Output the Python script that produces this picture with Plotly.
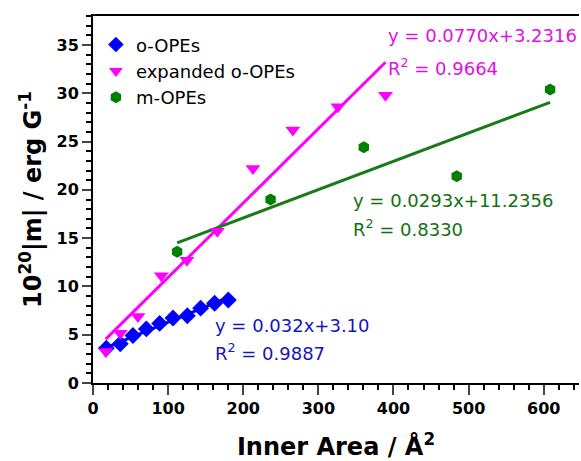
import plotly.graph_objects as go

# ---- data ----
o_x = [17.7, 36.3, 53.2, 71.0, 88.7, 106.5, 125.6, 143.3, 161.9, 180.1]
o_y = [3.60, 4.06, 4.92, 5.60, 6.17, 6.73, 6.96, 7.75, 8.26, 8.60]

exp_x = [17.0, 36.4, 59.9, 91.0, 125.0, 165.5, 212.9, 266.0, 326.0, 389.4]
exp_y = [3.27, 5.16, 6.88, 11.1, 12.7, 15.7, 22.2, 26.2, 28.6, 29.8]

m_x = [112.0, 236.4, 360.5, 484.2, 608.5]
m_y = [13.6, 19.0, 24.4, 21.4, 30.4]

series_names = ["o-OPEs", "expanded o-OPEs", "m-OPEs"]
fit_slope = [0.032, 0.0770, 0.0293]
fit_intercept = [3.10, 3.2316, 11.2356]
fit_eq_text = ["y = 0.032x+3.10", "y = 0.0770x+3.2316", "y = 0.0293x+11.2356"]
fit_r2_text = ["R<sup>2</sup> = 0.9887", "R<sup>2</sup> = 0.9664", "R<sup>2</sup> = 0.8330"]

x_ticks = [0, 100, 200, 300, 400, 500, 600]
y_ticks = [0, 5, 10, 15, 20, 25, 30, 35]

# ---- style ----
marker_colors = ["#0000ff", "#ff00ff", "#008000"]
line_colors = ["#0000ff", "#ff00ff", "#1a7a1a"]
text_colors = ["#1414c0", "#e010e0", "#127012"]
symbols = ["diamond", "triangle-down", "hexagon"]
sizes = [13, 13, 12]
# annotation anchor positions (data coords): [eq_x, eq_y, r2_y]
ann_pos = [(159.6, 6.0, 3.2), (390.7, 36.0, 32.7), (343.8, 18.9, 16.0)]

FONT = "DejaVu Sans"
fig = go.Figure()

datasets = [(o_x, o_y), (exp_x, exp_y), (m_x, m_y)]
# fit lines
for i, (xs, ys) in enumerate(datasets):
    x0, x1 = min(xs), max(xs)
    fig.add_trace(go.Scatter(
        x=[x0, x1],
        y=[fit_slope[i] * x0 + fit_intercept[i], fit_slope[i] * x1 + fit_intercept[i]],
        mode="lines", line=dict(color=line_colors[i], width=3),
        showlegend=False, hoverinfo="skip"))

# markers
for i, (xs, ys) in enumerate(datasets):
    fig.add_trace(go.Scatter(
        x=xs, y=ys, mode="markers", name=series_names[i],
        marker=dict(symbol=symbols[i], size=sizes[i], color=marker_colors[i],
                    line=dict(width=0))))

for i in range(3):
    ex, ey, ry = ann_pos[i]
    fig.add_annotation(x=ex, y=ey, xref="x", yref="y", text=fit_eq_text[i],
                       showarrow=False, xanchor="left", yanchor="middle",
                       font=dict(family=FONT, size=18, color=text_colors[i]))
    fig.add_annotation(x=ex, y=ry, xref="x", yref="y", text=fit_r2_text[i],
                       showarrow=False, xanchor="left", yanchor="middle",
                       font=dict(family=FONT, size=18, color=text_colors[i]))

fig.update_layout(
    width=581, height=461,
    margin=dict(l=93, r=2, t=16, b=78, autoexpand=False),
    plot_bgcolor="white", paper_bgcolor="white",
    font=dict(family=FONT, color="black"),
    legend=dict(x=0.006, y=0.972, xanchor="left", yanchor="top",
                bgcolor="rgba(0,0,0,0)", font=dict(family=FONT, size=18),
                itemsizing="constant", tracegroupgap=0),
    xaxis=dict(range=[0, 647], tickvals=x_ticks, ticks="outside", ticklen=10,
               tickwidth=2, linewidth=2, linecolor="black", showline=True,
               mirror=True, showgrid=False, zeroline=False, automargin=False,
               tickfont=dict(family=FONT, size=16, weight="bold"),
               minor=dict(dtick=20, ticks="outside", ticklen=5, tickwidth=1.5,
                          tickcolor="black", showgrid=False),
               title=dict(text="Inner Area / Å<sup>2</sup>",
                          font=dict(family=FONT, size=24, weight="bold"), standoff=24)),
    yaxis=dict(range=[0, 38], tickvals=y_ticks, ticks="outside", ticklen=9,
               tickwidth=2, linewidth=2, linecolor="black", showline=True,
               mirror=False, showgrid=False, zeroline=False, automargin=False,
               tickfont=dict(family=FONT, size=16, weight="bold"),
               minor=dict(dtick=1, ticks="outside", ticklen=5, tickwidth=1.5,
                          tickcolor="black", showgrid=False),
               title=dict(text="10<sup>20</sup>|m| / erg G<sup>-1</sup>",
                          font=dict(family=FONT, size=24, weight="bold"), standoff=8)),
)

fig.write_html("out.html", config={"displayModeBar": False},
               post_script="document.body.style.margin='0';document.body.style.overflow='hidden';")
